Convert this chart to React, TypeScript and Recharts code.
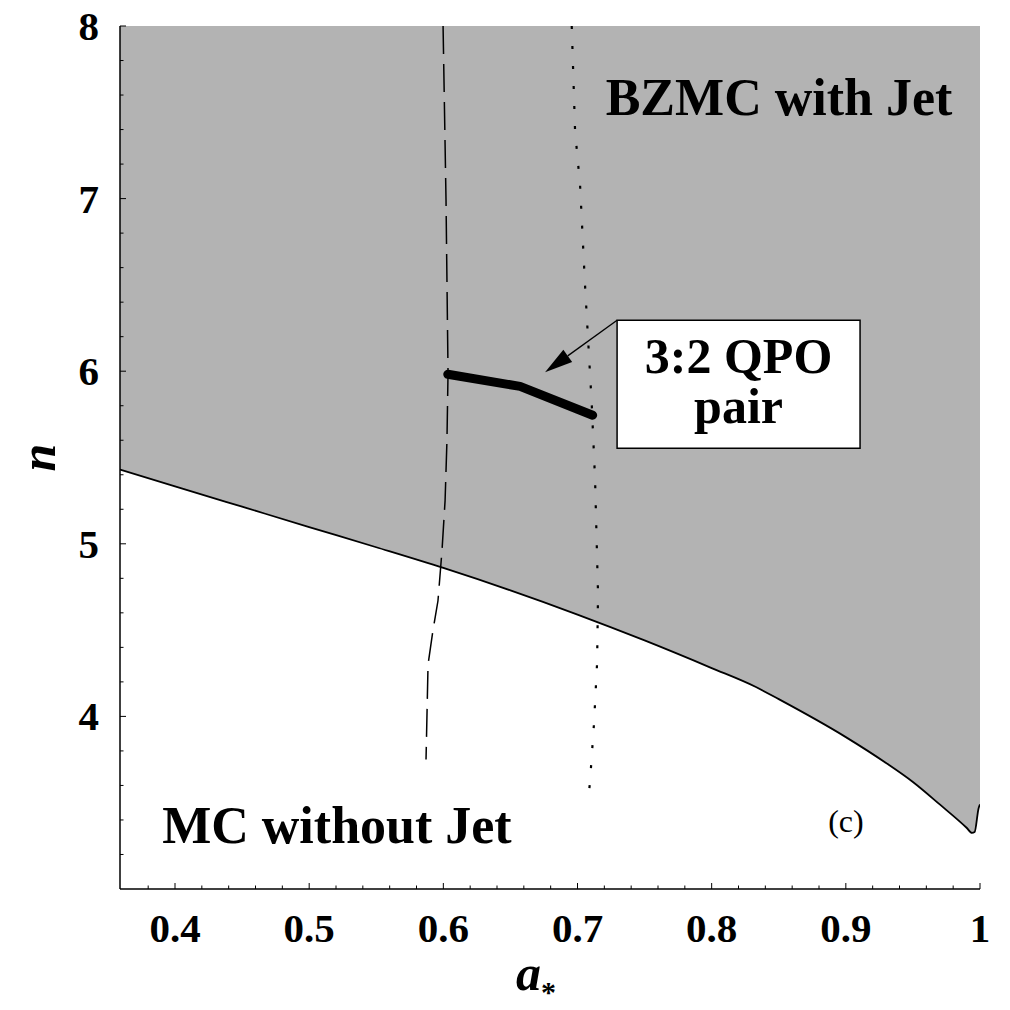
import React from 'react';
import {
    ComposedChart,
    Area,
    Line,
    XAxis,
    YAxis,
    ReferenceArea,
    ReferenceDot,
    ReferenceLine
} from 'recharts';

const FONT = '"Liberation Serif", "Times New Roman", serif';

// lower edge of the shaded BZMC region
const boundaryA = [0.359, 0.4, 0.45, 0.5, 0.55, 0.6, 0.65, 0.7, 0.75, 0.8, 0.833, 0.85, 0.9, 0.93, 0.95, 0.97, 0.99, 0.994, 0.996, 0.999, 1.0];
const boundaryN = [5.43, 5.333, 5.215, 5.097, 4.98, 4.86, 4.73, 4.59, 4.44, 4.28, 4.17, 4.1, 3.88, 3.73, 3.62, 3.49, 3.355, 3.325, 3.33, 3.47, 3.49];

// dashed curve
const dashedA = [0.5998, 0.602, 0.6035, 0.6027, 0.6013, 0.599, 0.596, 0.5923, 0.5886, 0.5871];
const dashedN = [8.0, 6.99, 5.99, 5.6, 5.25, 4.96, 4.67, 4.5, 4.3, 3.75];

// dotted curve
const dottedA = [0.6957, 0.6982, 0.7019, 0.7056, 0.7106, 0.7131, 0.7153, 0.7146, 0.7123, 0.7093, 0.7078];
const dottedN = [8.0, 7.39, 7.08, 6.5, 5.81, 5.37, 4.71, 4.31, 3.96, 3.62, 3.5];

// 3:2 QPO pair
const qpoA = [0.6033, 0.6572, 0.7113];
const qpoN = [5.982, 5.912, 5.745];

const xMajorTicks = [0.4, 0.5, 0.6, 0.7, 0.8, 0.9, 1.0];
const xTickLabels = ['0.4', '0.5', '0.6', '0.7', '0.8', '0.9', '1'];
const xMinorTicks = [0.38, 0.42, 0.44, 0.46, 0.48, 0.52, 0.54, 0.56, 0.58, 0.62, 0.64, 0.66, 0.68, 0.72, 0.74, 0.76, 0.78, 0.82, 0.84, 0.86, 0.88, 0.92, 0.94, 0.96, 0.98];
const yMajorTicks = [4, 5, 6, 7, 8];
const yTickLabels = ['4', '5', '6', '7', '8'];
const yMinorTicks = [3.2, 3.4, 3.6, 3.8, 4.2, 4.4, 4.6, 4.8, 5.2, 5.4, 5.6, 5.8, 6.2, 6.4, 6.6, 6.8, 7.2, 7.4, 7.6, 7.8];

const zip = (as: number[], ns: number[]) => as.map((a, i) => ({ a, n: ns[i] }));

const bandData = boundaryA.map((a, i) => ({ a, n: boundaryN[i], band: [boundaryN[i], 8] }));
const dashedData = zip(dashedA, dashedN);
const dottedData = zip(dottedA, dottedN);
const qpoData = zip(qpoA, qpoN);

const xTicks = [...xMajorTicks, ...xMinorTicks].sort((p, q) => p - q);
const yTicks = [...yMajorTicks, ...yMinorTicks].sort((p, q) => p - q);

const findLabel = (v: number, majors: number[], labels: string[]) => {
    const i = majors.findIndex(m => Math.abs(m - v) < 1e-6);
    return i >= 0 ? labels[i] : null;
};

const tickFont = { fontFamily: FONT, fontWeight: 'bold' as const, fontSize: 41, fill: '#000' };

const BottomTick = (props: any) => {
    const { x, y, payload } = props;
    const label = findLabel(payload.value, xMajorTicks, xTickLabels);
    return (
        <g>
            <line x1={x} y1={y} x2={x} y2={y - (label ? 6 : 3.5)} stroke="#000" strokeWidth={1} />
            {label && (
                <text x={x} y={y + 53} textAnchor="middle" {...tickFont}>{label}</text>
            )}
        </g>
    );
};

const TopTick = (props: any) => {
    const { x, y, payload } = props;
    const major = findLabel(payload.value, xMajorTicks, xTickLabels);
    return <line x1={x} y1={y} x2={x} y2={y + (major ? 6 : 3.5)} stroke="#000" strokeWidth={1} />;
};

const LeftTick = (props: any) => {
    const { x, y, payload } = props;
    const label = findLabel(payload.value, yMajorTicks, yTickLabels);
    return (
        <g>
            <line x1={x} y1={y} x2={x + (label ? 6 : 3.5)} y2={y} stroke="#000" strokeWidth={1} />
            {label && (
                <text x={x - 21} y={y + 14} textAnchor="end" {...tickFont}>{label}</text>
            )}
        </g>
    );
};

const RightTick = (props: any) => {
    const { x, y, payload } = props;
    const major = findLabel(payload.value, yMajorTicks, yTickLabels);
    return <line x1={x} y1={y} x2={x - (major ? 6 : 3.5)} y2={y} stroke="#000" strokeWidth={1} />;
};

// a_* : italic a with a subscript asterisk
const XLabel = (props: any) => {
    const vb = props.viewBox || { x: 120, y: 889, width: 860, height: 121 };
    const cx = vb.x + vb.width / 2;
    return (
        <text x={cx - 14} y={vb.y + 101} textAnchor="middle" fontFamily={FONT} fontWeight="bold" fontSize={50} fill="#000">
            <tspan fontStyle="italic">a</tspan>
            <tspan fontSize={30} dy={12}>*</tspan>
        </text>
    );
};

const YLabel = (props: any) => {
    const vb = props.viewBox || { x: 0, y: 26, width: 120, height: 863 };
    const cy = vb.y + vb.height / 2;
    const bx = vb.x + 55;
    return (
        <text
            x={bx}
            y={cy}
            transform={`rotate(-90 ${bx} ${cy})`}
            textAnchor="middle"
            fontFamily={FONT}
            fontWeight="bold"
            fontStyle="italic"
            fontSize={50}
            fill="#000"
        >
            n
        </text>
    );
};

const textAt = (value: string, size: number, weight: string) => (props: any) => {
    const vb = props.viewBox || { x: 0, y: 0 };
    return (
        <text x={vb.x} y={vb.y} textAnchor="middle" fontFamily={FONT} fontWeight={weight} fontSize={size} fill="#000">
            {value}
        </text>
    );
};

const BoxLabel = (props: any) => {
    const vb = props.viewBox || { x: 0, y: 0, width: 0, height: 0 };
    const cx = vb.x + vb.width / 2;
    return (
        <text textAnchor="middle" fontFamily={FONT} fontWeight="bold" fontSize={50} fill="#000">
            <tspan x={cx} y={vb.y + 53}>3:2 QPO</tspan>
            <tspan x={cx} y={vb.y + 103}>pair</tspan>
        </text>
    );
};

const Arrow = (props: any) => {
    const { x1, y1, x2, y2 } = props;
    if ([x1, y1, x2, y2].some(v => typeof v !== 'number')) return <g />;
    const dx = x2 - x1;
    const dy = y2 - y1;
    const len = Math.sqrt(dx * dx + dy * dy) || 1;
    const ux = dx / len;
    const uy = dy / len;
    const head = 28;
    const half = 7.5;
    const bx = x2 - ux * head;
    const by = y2 - uy * head;
    const pts = `${x2},${y2} ${bx - uy * half},${by + ux * half} ${bx + uy * half},${by - ux * half}`;
    return (
        <g>
            <line x1={x1} y1={y1} x2={bx} y2={by} stroke="#000" strokeWidth={1.3} />
            <polygon points={pts} fill="#000" />
        </g>
    );
};

const App: React.FC = () => {
    return (
        <div style={{ position: 'absolute', left: 0, top: 0, width: 1010, height: 1010, background: '#fff' }}>
            <ComposedChart
                width={1010}
                height={1010}
                data={bandData}
                margin={{ top: 26, right: 30, bottom: 0, left: 0 }}
            >
                <XAxis
                    dataKey="a"
                    type="number"
                    domain={[0.359, 1]}
                    allowDataOverflow
                    ticks={xTicks}
                    interval={0}
                    height={121}
                    tickSize={0}
                    tickMargin={0}
                    tickLine={false}
                    axisLine={{ stroke: '#000', strokeWidth: 1.5 }}
                    tick={BottomTick}
                    label={XLabel}
                />
                <XAxis
                    xAxisId="top"
                    orientation="top"
                    dataKey="a"
                    type="number"
                    domain={[0.359, 1]}
                    allowDataOverflow
                    ticks={xTicks}
                    interval={0}
                    height={0}
                    tickSize={0}
                    tickMargin={0}
                    tickLine={false}
                    axisLine={{ stroke: '#000', strokeWidth: 1.5 }}
                    tick={TopTick}
                />
                <YAxis
                    type="number"
                    domain={[3, 8]}
                    allowDataOverflow
                    ticks={yTicks}
                    interval={0}
                    width={120}
                    tickSize={0}
                    tickMargin={0}
                    tickLine={false}
                    axisLine={{ stroke: '#000', strokeWidth: 1.5 }}
                    tick={LeftTick}
                    label={YLabel}
                />
                <YAxis
                    yAxisId="right"
                    orientation="right"
                    type="number"
                    domain={[3, 8]}
                    allowDataOverflow
                    ticks={yTicks}
                    interval={0}
                    width={0}
                    tickSize={0}
                    tickMargin={0}
                    tickLine={false}
                    axisLine={{ stroke: '#000', strokeWidth: 1.5 }}
                    tick={RightTick}
                />
                <Area
                    type="monotone"
                    dataKey="band"
                    stroke="none"
                    fill="#b3b3b3"
                    fillOpacity={1}
                    isAnimationActive={false}
                />
                <Line
                    type="monotone"
                    dataKey="n"
                    stroke="#000"
                    strokeWidth={1.8}
                    dot={false}
                    isAnimationActive={false}
                />
                <Line
                    data={dashedData}
                    type="linear"
                    dataKey="n"
                    stroke="#000"
                    strokeWidth={1.5}
                    strokeDasharray="28 10"
                    dot={false}
                    isAnimationActive={false}
                />
                <Line
                    data={dottedData}
                    type="linear"
                    dataKey="n"
                    stroke="#000"
                    strokeWidth={2.2}
                    strokeDasharray="3 17"
                    dot={false}
                    isAnimationActive={false}
                />
                <Line
                    data={qpoData}
                    type="linear"
                    dataKey="n"
                    stroke="#000"
                    strokeWidth={9}
                    strokeLinecap="round"
                    strokeLinejoin="round"
                    dot={false}
                    isAnimationActive={false}
                />
                <ReferenceArea
                    x1={0.7295}
                    x2={0.9106}
                    y1={5.554}
                    y2={6.295}
                    fill="#fff"
                    fillOpacity={1}
                    stroke="#000"
                    strokeWidth={1.5}
                    label={BoxLabel}
                />
                <ReferenceLine
                    segment={[{ x: 0.7295, y: 6.295 }, { x: 0.6758, y: 5.994 }]}
                    shape={Arrow}
                />
                <ReferenceDot x={0.8502} y={7.482} r={0} fill="none" stroke="none" label={textAt('BZMC with Jet', 52, 'bold')} />
                <ReferenceDot x={0.5207} y={3.266} r={0} fill="none" stroke="none" label={textAt('MC without Jet', 52, 'bold')} />
                <ReferenceDot x={0.9001} y={3.33} r={0} fill="none" stroke="none" label={textAt('(c)', 32, 'normal')} />
            </ComposedChart>
        </div>
    );
};

export default App;
